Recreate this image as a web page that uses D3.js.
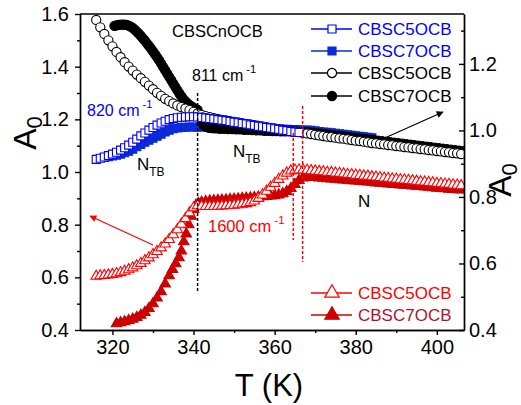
<!DOCTYPE html>
<html>
<head>
<meta charset="utf-8">
<script src="https://cdn.jsdelivr.net/npm/d3@7"></script>
<style>
  body { margin: 0; background: #fff; }
  svg { display: block; font-family: Arial, 'Liberation Sans', sans-serif; }
</style>
</head>
<body>
<svg width="521" height="405"></svg>
<script>
// 811 / 820 cm-1 band (blue: left axis, black: right axis), 1600 cm-1 band (red: left axis)
const tBlue5 = [316,317,318,319,320,321,322,323,324,325,326,327,328,329,330,331,332,333,334,335,336,337,338,339,340,341,342,343,344,345,346,347,348,349,350,351,352,353,354,355,356,357,358,359,360,361,362,363,364,365,366]
const aBlue5 = [1.048,1.052,1.057,1.062,1.068,1.075,1.083,1.092,1.102,1.113,1.125,1.137,1.148,1.159,1.169,1.178,1.186,1.193,1.199,1.203,1.206,1.208,1.209,1.21,1.21,1.209,1.207,1.205,1.203,1.201,1.199,1.197,1.195,1.192,1.189,1.187,1.184,1.182,1.179,1.177,1.174,1.172,1.169,1.167,1.164,1.162,1.159,1.157,1.154,1.152,1.15]

const tBlue7 = [318,319,320,321,322,323,324,325,326,327,328,329,330,331,332,333,334,335,336,337,338,339,340,341,342,343,344,345,346,347,348,349,350,351,352,353,354,355,356,357,358,359,360,361,362,363,364,365,366,367,368,369,370,371,372,373,374,375,376,377,378,379,380,381,382,383,384]
const aBlue7 = [1.055,1.058,1.061,1.064,1.068,1.073,1.079,1.087,1.096,1.105,1.113,1.121,1.128,1.136,1.144,1.152,1.159,1.164,1.167,1.169,1.17,1.171,1.171,1.17,1.172,1.172,1.17,1.169,1.167,1.166,1.166,1.165,1.164,1.164,1.163,1.168,1.168,1.166,1.166,1.165,1.165,1.164,1.163,1.163,1.162,1.162,1.161,1.161,1.16,1.159,1.159,1.158,1.156,1.154,1.152,1.151,1.149,1.147,1.145,1.143,1.141,1.139,1.137,1.136,1.134,1.132,1.130]

const tBlack5 = [316,317,318,319,320,321,322,323,324,325,326,327,328,329,330,331,332,333,334,335,336,337,338,339,340,341,342,343,344,345,346,347,348,349,350,351,352,353,354,355,356,357,358,359,360,361,362,363,364,365,366,367,368,369,370,371,372,373,374,375,376,377,378,379,380,381,382,383,384,385,386,387,388,389,390,391,392,393,394,395,396,397,398,399,400,401,402,403,404,405,406]
const aBlack5 = [1.332,1.31,1.29,1.271,1.253,1.236,1.22,1.205,1.192,1.18,1.168,1.157,1.146,1.135,1.124,1.113,1.104,1.095,1.088,1.081,1.075,1.07,1.066,1.061,1.056,1.051,1.047,1.043,1.04,1.037,1.035,1.032,1.03,1.028,1.026,1.024,1.022,1.02,1.018,1.016,1.014,1.012,1.01,1.008,1.006,1.004,1.002,1.0,0.999,0.997,0.995,0.993,0.991,0.989,0.987,0.985,0.983,0.981,0.98,0.978,0.976,0.975,0.973,0.971,0.969,0.968,0.966,0.964,0.962,0.961,0.959,0.958,0.956,0.955,0.953,0.952,0.95,0.949,0.947,0.946,0.944,0.943,0.941,0.94,0.938,0.937,0.935,0.934,0.932,0.931,0.929]

const tBlack7 = [320.5,321,321.5,322,322.5,323,323.5,324,324.5,325,325.5,326,326.5,327,327.5,328,328.5,329,329.5,330,330.5,331,331.5,332,332.5,333,333.5,334,334.5,335,335.5,336,336.5,337,337.5,338,338.5,339,339.5,340,340.5,341,341.5,342,342.5,343,343.5,344,344.5,345,345.5,346.5,347.5,348.5,349.5,350.5,351.5,352.5,353.5,354.5,355.5,356.5,357.5,358.5,359.5,360.5,361.5,362.5,363.5,364.5,365.5,366.5,367.5,368.5,369.5,370.5,371.5,372.5,373.5,374.5,375.5,376.5,377.5,378.5,379.5,380.5,381.5,382.5,383.5,384.5,385.5,386.5,387.5,388.5,389.5,390.5,391.5,392.5,393.5,394.5,395.5,396.5,397.5,398.5,399.5,400.5,401.5,402.5,403.5,404.5,405.5,406.5]
const aBlack7 = [1.314,1.316,1.317,1.318,1.318,1.318,1.317,1.315,1.312,1.308,1.303,1.297,1.291,1.284,1.277,1.27,1.262,1.254,1.246,1.238,1.229,1.22,1.211,1.201,1.191,1.181,1.171,1.161,1.151,1.141,1.131,1.121,1.111,1.102,1.094,1.087,1.081,1.076,1.072,1.068,1.065,1.062,1.045,1.027,1.016,1.011,1.009,1.008,1.007,1.007,1.006,1.005,1.005,1.004,1.004,1.003,1.003,1.002,1.002,1.001,1.0,1.0,0.999,0.999,0.998,0.998,0.997,0.997,0.997,0.996,0.996,0.995,0.995,0.994,0.993,0.992,0.99,0.989,0.987,0.986,0.984,0.983,0.981,0.98,0.978,0.977,0.975,0.974,0.972,0.971,0.969,0.968,0.966,0.965,0.963,0.962,0.96,0.959,0.957,0.956,0.954,0.953,0.951,0.95,0.948,0.947,0.945,0.944,0.942,0.941,0.939,0.938]

const tRed5 = [316,317,318,319,320,321,322,323,324,325,326,327,328,329,330,331,332,333,334,335,336,337,338,339,340,341,342,343,344,345,346,347,348,349,350,351,352,353,354,355,356,357,358,359,360,361,362,363,364,365,366,367,368,369,370,371,372,373,374,375,376,377,378,379,380,381,382,383,384,385,386,387,388,389,390,391,392,393,394,395,396,397,398,399,400,401,402,403,404,405,406]
const aRed5 = [0.604,0.606,0.607,0.609,0.611,0.614,0.618,0.623,0.629,0.636,0.644,0.653,0.663,0.674,0.686,0.698,0.712,0.727,0.744,0.762,0.781,0.802,0.823,0.845,0.864,0.872,0.87,0.869,0.869,0.869,0.87,0.871,0.872,0.873,0.874,0.876,0.878,0.88,0.884,0.89,0.9,0.913,0.927,0.942,0.957,0.972,0.985,0.996,1.004,1.007,1.008,1.008,1.007,1.005,1.004,1.002,1.001,0.999,0.998,0.996,0.995,0.993,0.991,0.99,0.988,0.987,0.985,0.984,0.982,0.981,0.979,0.977,0.976,0.974,0.973,0.971,0.97,0.968,0.967,0.965,0.963,0.962,0.96,0.959,0.957,0.956,0.954,0.953,0.951,0.95,0.948]

const tRed7 = [321,322,323,324,325,326,327,328,329,330,331,332,333,334,334.8,335.6,336.4,337,337.6,338.2,338.8,339.4,340,340.6,341.2,342,343,344,345,346,347,348,349,350,351,352,353,354,355,356,357,358,359,360,361,362,363,364,365,366,367,368,369,370,371,372,373,374,375,376,377,378,379,380,381,382,383,384,385,386,387,388,389,390,391,392,393,394,395,396,397,398,399,400,401,402,403,404,405,406]
const aRed7 = [0.424,0.428,0.432,0.436,0.441,0.448,0.456,0.467,0.482,0.5,0.522,0.546,0.575,0.606,0.63,0.652,0.675,0.7,0.735,0.765,0.8,0.832,0.858,0.874,0.881,0.885,0.888,0.89,0.891,0.892,0.893,0.894,0.896,0.897,0.898,0.9,0.901,0.902,0.903,0.905,0.906,0.907,0.909,0.91,0.913,0.918,0.926,0.938,0.953,0.968,0.978,0.981,0.98,0.979,0.978,0.977,0.975,0.974,0.973,0.971,0.97,0.969,0.967,0.966,0.965,0.963,0.962,0.961,0.959,0.958,0.957,0.955,0.954,0.953,0.951,0.95,0.949,0.947,0.946,0.945,0.943,0.942,0.941,0.939,0.938,0.937,0.935,0.934,0.933,0.932]

const xTicks = [320, 340, 360, 380, 400]
const xMinor = [330, 350, 370, 390]
const leftTicks = [0.4, 0.6, 0.8, 1.0, 1.2, 1.4, 1.6]
const leftMinor = [0.5, 0.7, 0.9, 1.1, 1.3, 1.5]
const rightTicks = [0.4, 0.6, 0.8, 1.0, 1.2]
const rightMinor = [0.5, 0.7, 0.9, 1.1, 1.3]
const transitions = [341, 364.6, 366.9]

const svg = d3.select('svg')
const margin = {left: 80, right: 57, top: 14, bottom: 75}
const width = +svg.attr('width')
const height = +svg.attr('height')

const x = d3.scaleLinear().domain([312, 406.7]).range([margin.left, width - margin.right])
const yL = d3.scaleLinear().domain([0.4, 1.6]).range([height - margin.bottom, margin.top])
const yR = d3.scaleLinear().domain([0.4, 1.35]).range([height - margin.bottom, margin.top])

const blue = '#0000ff', blue7 = '#0a2bd6', red = '#ff0000', red7 = '#cc0000', red7txt = '#b8102e'

// data layer, clipped to plot area
svg.append('clipPath').attr('id', 'clip').append('rect')
  .attr('x', margin.left).attr('y', margin.top)
  .attr('width', width - margin.left - margin.right)
  .attr('height', height - margin.top - margin.bottom)
const plot = svg.append('g').attr('clip-path', 'url(#clip)')

const sym = {
  square: d3.symbol().type(d3.symbolSquare).size(64),
  circle: d3.symbol().type(d3.symbolCircle).size(66),
  triangle: d3.symbol().type(d3.symbolTriangle).size(48)
}

const drawSeries = (ts, as, yScale, shape, stroke, fill) => {
  plot.append('g').selectAll('path')
    .data(ts.map((t, i) => [t, as[i]]))
    .enter()
    .append('path')
    .attr('d', sym[shape])
    .attr('transform', d => `translate(${x(d[0])},${yScale(d[1])})`)
    .attr('fill', fill)
    .attr('stroke', stroke)
    .attr('stroke-width', 1.1)
}

drawSeries(tRed7, aRed7, yL, 'triangle', red7, red7)
drawSeries(tRed5, aRed5, yL, 'triangle', red, '#fff')
drawSeries(tBlue7, aBlue7, yL, 'square', blue7, blue7)
drawSeries(tBlack7, aBlack7, yR, 'circle', '#000', '#000')
drawSeries(tBlack5, aBlack5, yR, 'circle', '#000', '#fff')
drawSeries(tBlue5, aBlue5, yL, 'square', blue, '#fff')

// transition markers
svg.append('line').attr('x1', x(transitions[0])).attr('x2', x(transitions[0]))
  .attr('y1', 93).attr('y2', 293)
  .attr('stroke', '#000').attr('stroke-width', 1.5).attr('stroke-dasharray', '3,2')
svg.append('line').attr('x1', x(transitions[1])).attr('x2', x(transitions[1]))
  .attr('y1', 133).attr('y2', 240)
  .attr('stroke', red).attr('stroke-width', 1.5).attr('stroke-dasharray', '3,2')
svg.append('line').attr('x1', x(transitions[2])).attr('x2', x(transitions[2]))
  .attr('y1', 106).attr('y2', 262)
  .attr('stroke', red).attr('stroke-width', 1.5).attr('stroke-dasharray', '3,2')

// axes
const fmt = d3.format('.1f')
const axisStyle = g => {
  g.selectAll('path, line').attr('stroke', '#000').attr('stroke-width', 1.4)
  g.selectAll('text').attr('font-size', 20).attr('fill', '#000')
    .attr('font-family', "Arial, 'Liberation Sans', sans-serif")
}
const yb = height - margin.bottom
svg.append('g').attr('transform', `translate(0,${yb})`)
  .call(d3.axisBottom(x).tickValues(xTicks).tickSize(5).tickSizeOuter(0).tickPadding(5))
  .call(axisStyle)
svg.append('g').attr('transform', `translate(0,${yb})`)
  .call(d3.axisBottom(x).tickValues(xMinor).tickSize(3).tickFormat('').tickSizeOuter(0))
  .call(axisStyle)
svg.append('g').attr('transform', `translate(${margin.left},0)`)
  .call(d3.axisLeft(yL).tickValues(leftTicks).tickFormat(fmt).tickSize(5).tickSizeOuter(0).tickPadding(6))
  .call(axisStyle)
svg.append('g').attr('transform', `translate(${margin.left},0)`)
  .call(d3.axisLeft(yL).tickValues(leftMinor).tickFormat('').tickSize(3).tickSizeOuter(0))
  .call(axisStyle)
const xr = width - margin.right
svg.append('g').attr('transform', `translate(${xr},0)`)
  .call(d3.axisRight(yR).tickValues(rightTicks).tickFormat(fmt).tickSize(-5).tickSizeOuter(0).tickPadding(5))
  .call(axisStyle)
svg.append('g').attr('transform', `translate(${xr},0)`)
  .call(d3.axisRight(yR).tickValues(rightMinor).tickFormat('').tickSize(-3).tickSizeOuter(0))
  .call(axisStyle)
svg.append('line').attr('x1', margin.left).attr('x2', xr)
  .attr('y1', margin.top).attr('y2', margin.top)
  .attr('stroke', '#000').attr('stroke-width', 1.4)

// axis titles
const a0 = (xp, yp) => {
  const t = svg.append('text').attr('transform', `translate(${xp},${yp}) rotate(-90)`)
    .attr('text-anchor', 'middle').attr('font-size', 32)
  t.append('tspan').text('A')
  t.append('tspan').attr('font-size', 22).attr('dy', 6).text('0')
}
a0(36, 133)
a0(511, 180)
svg.append('text').attr('x', 269).attr('y', 396).attr('text-anchor', 'middle')
  .attr('font-size', 31).text('T (K)')

// annotations
const label = (xp, yp, main, sup, color, size) => {
  const t = svg.append('text').attr('x', xp).attr('y', yp).attr('font-size', size).attr('fill', color)
  t.append('tspan').text(main)
  if (sup) t.append('tspan').attr('dx', 3).attr('dy', -8).attr('font-size', size * 0.7).text(sup)
  return t
}
label(172, 37, 'CBSCnOCB', null, '#000', 16.5)
label(192, 81, '811 cm', '-1', '#000', 16)
label(87, 116, '820 cm', '-1', blue, 16)
label(208, 232, '1600 cm', '-1', red, 16.5)
const nLabel = (xp, yp, sub) => {
  const t = svg.append('text').attr('x', xp).attr('y', yp).attr('font-size', 17)
  t.append('tspan').text('N')
  if (sub) t.append('tspan').attr('dy', 6).attr('font-size', 12).text(sub)
}
nLabel(137, 170, 'TB')
nLabel(233, 157, 'TB')
nLabel(358, 207, null)

// arrows
const defs = svg.append('defs')
const head = (id, color) => defs.append('marker').attr('id', id)
  .attr('viewBox', '0 0 10 10').attr('refX', 9).attr('refY', 5)
  .attr('markerWidth', 9).attr('markerHeight', 7).attr('markerUnits', 'userSpaceOnUse')
  .attr('orient', 'auto').append('path').attr('d', 'M0,0L10,5L0,10Z').attr('fill', color)
head('hk', '#000')
head('hr', red)
svg.append('line').attr('x1', 387).attr('y1', 137).attr('x2', 443).attr('y2', 112)
  .attr('stroke', '#000').attr('stroke-width', 1.2).attr('marker-end', 'url(#hk)')
svg.append('line').attr('x1', 153).attr('y1', 245).attr('x2', 90).attr('y2', 216)
  .attr('stroke', red).attr('stroke-width', 1.2).attr('marker-end', 'url(#hr)')

// legends
const legendRows = [
  {y: 29, shape: 'square', stroke: blue, fill: '#fff', text: 'CBSC5OCB', color: blue},
  {y: 51, shape: 'square', stroke: blue7, fill: blue7, text: 'CBSC7OCB', color: blue},
  {y: 73, shape: 'circle', stroke: '#000', fill: '#fff', text: 'CBSC5OCB', color: '#000'},
  {y: 96, shape: 'circle', stroke: '#000', fill: '#000', text: 'CBSC7OCB', color: '#000'},
  {y: 293, shape: 'triangle', stroke: red, fill: '#fff', text: 'CBSC5OCB', color: red},
  {y: 315, shape: 'triangle', stroke: red7, fill: red7, text: 'CBSC7OCB', color: red7txt}
]
const leg = svg.append('g').selectAll('g').data(legendRows).enter().append('g')
  .attr('transform', d => `translate(0,${d.y})`)
leg.append('line').attr('x1', 311).attr('x2', 352)
  .attr('stroke', d => d.stroke).attr('stroke-width', 1.4)
leg.append('path').attr('transform', 'translate(332,0)')
  .attr('d', d => d.shape === 'triangle' ? d3.symbol().type(d3.symbolTriangle).size(90)() : sym[d.shape]())
  .attr('fill', d => d.fill).attr('stroke', d => d.stroke).attr('stroke-width', 1.2)
leg.append('text').attr('x', 358).attr('y', 6).attr('font-size', 17)
  .attr('fill', d => d.color).text(d => d.text)
</script>
</body>
</html>
